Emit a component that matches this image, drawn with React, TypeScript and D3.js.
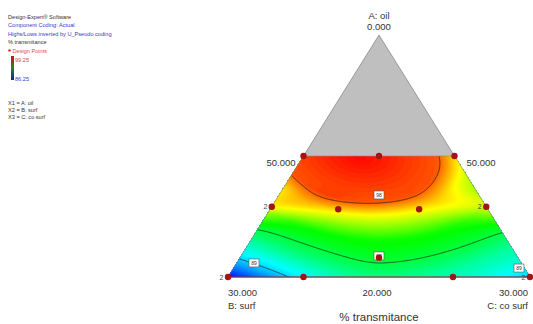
import React, { useMemo } from "react";
import * as d3 from "d3";

// ---- Data ----
const legendLines = [
  { text: "Design-Expert® Software", color: "#333333" },
  { text: "Component Coding: Actual", color: "#3a3acc" },
  { text: "Highs/Lows inverted by U_Pseudo coding", color: "#3a3acc" },
  { text: "% transmitance", color: "#333333" },
];
const factorLines = ["X1 = A: oil", "X2 = B: surf", "X3 = C: co surf"];
const responseMax = 99.25;
const responseMin = 86.25;

// Design points as pseudo-component fractions (a → apex, b → left, c → right)
const designA = [0.5, 0.5, 0.5, 0.29, 0.28, 0.28, 0.29, 0.08, 0, 0, 0, 0];
const designB = [0.5, 0.25, 0, 0.71, 0.495, 0.227, 0, 0.46, 1, 0.75, 0.255, 0];
const designC = [0, 0.25, 0.5, 0, 0.225, 0.493, 0.71, 0.46, 0, 0.25, 0.745, 1];
const designReps = ["", "", "", "2", "", "", "2", "", "2", "", "", "2"];

// Contour levels and where their labels sit
const contourLevels = [89, 92, 98];
const labelLevel = [98, 92, 89, 89];
const labelA = [0.339, 0.087, 0.058, 0.037];
const labelB = [0.33, 0.4565, 0.885, 0.018];
const labelC = [0.33, 0.4565, 0.057, 0.945];

// Radial profile of the fitted surface (distance from the optimum → scaled response)
const profileR = [0, 0.38, 0.49, 0.69, 0.87, 1.0, 1.3];
const profileT = [1, 0.92, 0.75, 0.52, 0.45, 0.38, 0.3];
const profile = d3.scaleLinear().domain(profileR).range(profileT).clamp(true);

function response(a: number, b: number, c: number) {
  const u = c - b;
  const w = 1 - 2 * a;
  const u0 = -0.13 * Math.max(0, 1 - 1.6 * w);
  const r = Math.hypot((u - u0) / 1.35, w);
  const w4 = Math.pow(Math.max(w, 0), 4);
  // flatter shoulders along the side edges between the two arcs
  const shoulder = 0.38 * u * u * Math.exp(-((w - 0.41) ** 2) / (2 * 0.085 ** 2));
  const t =
    profile(r) +
    shoulder -
    0.31 * Math.pow(Math.max(0, -u), 1.5) * w4 -
    0.11 * Math.pow(Math.max(0, u), 1.5) * w4;
  return responseMin + (responseMax - responseMin) * t;
}

const W = 533;
const H = 324;

export default function App() {
  // ternary geometry
  const xScale = d3.scaleLinear().domain([-1, 1]).range([228, 530]);
  const yScale = d3.scaleLinear().domain([0, 1]).range([277, 35]);
  const px = (a: number, b: number, c: number) => xScale(c - b);
  const py = (a: number) => yScale(a);

  const apex: [number, number] = [xScale(0), yScale(1)];
  const left: [number, number] = [xScale(-1), yScale(0)];
  const right: [number, number] = [xScale(1), yScale(0)];
  const topL: [number, number] = [px(0.5, 0.5, 0), py(0.5)];
  const topR: [number, number] = [px(0.5, 0, 0.5), py(0.5)];

  const color = d3
    .scaleLinear<string>()
    .domain(d3.range(5).map((i) => responseMin + (i * (responseMax - responseMin)) / 4))
    .range(["#0000ff", "#00ffff", "#00ff00", "#ffff00", "#ff0000"])
    .interpolate(d3.interpolateRgb)
    .clamp(true);

  const { bands, lines, gx0, gy0 } = useMemo(() => {
    const gx0 = 224;
    const gy0 = Math.floor(topL[1]) - 6;
    const nx = 310;
    const ny = Math.ceil(left[1]) + 8 - gy0;
    const values = new Array(nx * ny);
    for (let j = 0; j < ny; j++) {
      const y = gy0 + j + 0.5;
      const a = yScale.invert(y);
      for (let i = 0; i < nx; i++) {
        const x = gx0 + i + 0.5;
        const u = xScale.invert(x);
        const rest = 1 - a;
        const b = (rest - u) / 2;
        const c = (rest + u) / 2;
        values[j * nx + i] = response(a, b, c);
      }
    }
    const bandThresholds = d3.range(responseMin, responseMax + 0.001, 0.1);
    const bands = d3.contours().size([nx, ny]).thresholds(bandThresholds)(values);
    const lines = d3.contours().size([nx, ny]).thresholds(contourLevels)(values);
    return { bands, lines, gx0, gy0 };
  }, []);

  const path = d3.geoPath(d3.geoIdentity().translate([gx0, gy0]) as any);

  const trapezoid = [left, topL, topR, right];
  const trapPath = "M" + trapezoid.map((p) => p.join(",")).join("L") + "Z";
  const triPath = "M" + [left, apex, right].map((p) => p.join(",")).join("L") + "Z";

  const font = "'Liberation Sans', Arial, sans-serif";

  return (
    <svg
      width={W}
      height={H}
      style={{ position: "absolute", left: 0, top: 0, background: "#ffffff" }}
      fontFamily={font}
    >
      <defs>
        <clipPath id="region">
          <path d={trapPath} />
        </clipPath>
        <linearGradient id="bar" x1="0" y1="0" x2="0" y2="1">
          <stop offset="0" stopColor="#d01010" />
          <stop offset="0.5" stopColor="#208a20" />
          <stop offset="1" stopColor="#1020a0" />
        </linearGradient>
      </defs>

      {/* legend */}
      {legendLines.map((l, i) => (
        <text key={l.text} x={8} y={19 + i * 8.3} fontSize={5.6} fill={l.color}>
          {l.text}
        </text>
      ))}
      <circle cx={9.5} cy={50.5} r={1.3} fill="#d03030" />
      <text x={12.5} y={52.5} fontSize={5.6} fill="#e04848">
        Design Points
      </text>
      <rect x={11} y={56} width={3} height={24} fill="url(#bar)" />
      <text x={15} y={62} fontSize={5.6} fill="#e04848">
        {responseMax.toFixed(2)}
      </text>
      <text x={15} y={81} fontSize={5.6} fill="#3a3acc">
        {responseMin.toFixed(2)}
      </text>
      {factorLines.map((t, i) => (
        <text key={t} x={8} y={105 + i * 7.2} fontSize={5.6} fill="#333333">
          {t}
        </text>
      ))}

      {/* simplex */}
      <path d={triPath} fill="#bfbfbf" stroke="#8a8a8a" strokeWidth={0.8} />

      <g clipPath="url(#region)">
        <rect x={226} y={150} width={310} height={140} fill={color(responseMin)} />
        {bands.map((b, i) => (
          <path key={i} d={path(b as any) || ""} fill={color(b.value)} />
        ))}
        {lines.map((l, i) => (
          <path key={i} d={path(l as any) || ""} fill="none" stroke="#1a1a1a" strokeWidth={0.7} />
        ))}
      </g>
      <path d={trapPath} fill="none" stroke="#8a8a8a" strokeWidth={0.6} />
      <line x1={left[0]} y1={left[1]} x2={right[0]} y2={right[1]} stroke="#7a2020" strokeWidth={0.9} />

      {/* contour labels */}
      {labelLevel.map((v, i) => {
        const x = px(labelA[i], labelB[i], labelC[i]);
        const y = py(labelA[i]);
        return (
          <g key={i}>
            <rect x={x - 5} y={y - 4} width={10} height={8} fill="#ffffff" stroke="#555555" strokeWidth={0.6} />
            <text x={x} y={y + 1.8} fontSize={5} textAnchor="middle" fill="#333333">
              {v}
            </text>
          </g>
        );
      })}

      {/* design points */}
      {designA.map((a, i) => (
        <g key={i}>
          <circle cx={px(a, designB[i], designC[i])} cy={py(a)} r={3.2} fill="#a31515" />
          {designReps[i] && (
            <text
              x={px(a, designB[i], designC[i]) - 4.5}
              y={py(a) + 2.5}
              fontSize={7}
              textAnchor="end"
              fill="#444444"
            >
              {designReps[i]}
            </text>
          )}
        </g>
      ))}

      {/* axis labels */}
      <text x={apex[0]} y={18.5} fontSize={9.5} textAnchor="middle" fill="#333">A: oil</text>
      <text x={apex[0]} y={29.5} fontSize={9.5} textAnchor="middle" fill="#333">0.000</text>
      <text x={topL[0] - 8} y={165.5} fontSize={9.5} textAnchor="end" fill="#333">50.000</text>
      <text x={topR[0] + 12} y={165.5} fontSize={9.5} textAnchor="start" fill="#333">50.000</text>
      <text x={left[0]} y={295.5} fontSize={9.5} fill="#333">30.000</text>
      <text x={left[0]} y={308.5} fontSize={9.5} fill="#333">B: surf</text>
      <text x={xScale(0) - 2} y={295.5} fontSize={9.5} textAnchor="middle" fill="#333">20.000</text>
      <text x={right[0] - 2} y={295.5} fontSize={9.5} textAnchor="end" fill="#333">30.000</text>
      <text x={right[0] - 2} y={308.5} fontSize={9.5} textAnchor="end" fill="#333">C: co surf</text>
      <text x={xScale(0)} y={321} fontSize={11.5} textAnchor="middle" fill="#333">% transmitance</text>
    </svg>
  );
}
